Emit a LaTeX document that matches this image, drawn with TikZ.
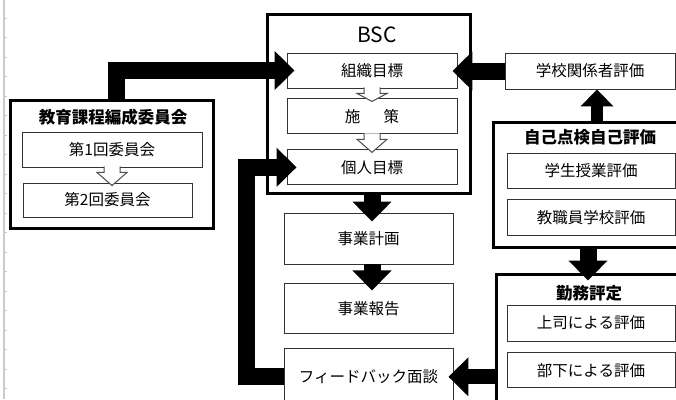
\documentclass[tikz,border=0pt]{standalone}
\usepackage{fontspec}
\setmainfont{Noto Sans CJK JP}
\usepackage{tikz}
\usetikzlibrary{positioning}
\usetikzlibrary{calc,arrows.meta}
\tikzstyle{box} = [draw=black!80, line width=0.9pt, fill=white, minimum width=170pt, minimum height=35pt, inner sep=0pt, text centered, font=\fontsize{15.5}{16}\selectfont]
\tikzstyle{frame} = [draw=black, line width=3pt, inner sep=0pt]
\tikzstyle{title} = [font=\fontsize{16.5}{17}\selectfont\bfseries]
\tikzstyle{fat} = [line width=17pt, -{Triangle[width=38pt,length=20pt]}]
\tikzstyle{hollow} = [draw=black!70, fill=white, line width=1pt]
\newcommand{\hollowdown}[2]{%
	\path[hollow] let \p1=(#1.south), \p2=(#2.north) in
	(\x1-8pt,\y1+1pt) -- (\x1-8pt,\y1-5pt) -- (\x1-15pt,\y1-5pt) -- (\x1,\y2-3pt)
	-- (\x1+15pt,\y1-5pt) -- (\x1+8pt,\y1-5pt) -- (\x1+8pt,\y1+1pt);}

\begin{document}
\begin{tikzpicture}[x=1pt,y=-1pt]
	\useasboundingbox (0,0) rectangle (676,399);
	% sheet edge
	\draw[black!20, line width=1.5pt] (4,0) -- (4,399);
	\foreach \t in {18,37.5,...,399}
	\draw[black!20] (4,\t) -- (7,\t);
	
	\node[frame, minimum width=203pt, minimum height=128pt] (ctee) at (111.5,164) {};
	\node[title] (cteeT) at (113,117) {教育課程編成委員会};
	\node[box, minimum width=180pt] (c1) at (112,149.5) {第1回委員会};
	\node[box, minimum width=169pt, minimum height=34pt] (c2) at (107.5,200) {第2回委員会};
	
	\node[frame, minimum width=203pt, minimum height=179pt] (bsc) at (368.5,103.5) {};
	\node[font=\fontsize{21}{22}\selectfont] (bscT) at (377,35) {BSC};
	\node[box] (goal) at (372,70.5) {組織目標};
	\node[box, below=10pt of goal] (measure) {施\hspace{1.5em}策};
	\node[box, below=15pt of measure] (indiv) {個人目標};
	
	\node[box, minimum height=36pt] (stake) at (590,71) {学校関係者評価};
	\node[frame, minimum width=187pt, minimum height=125pt] (self) at (586.5,184.5) {};
	\node[title] (selfT) at (590,137) {自己点検自己評価};
	\node[box, minimum width=168pt] (student) at (591,170.5) {学生授業評価};
	\node[box, minimum width=168pt, minimum height=36pt, below=11pt of student] (staff) {教職員学校評価};
	
	\node[frame, minimum width=184pt, minimum height=128pt] (kinmu) at (588,338) {};
	\node[title] (kinmuT) at (589,293) {勤務評定};
	\node[box, minimum width=168pt, minimum height=36pt] (boss) at (591,323) {上司による評価};
	\node[box, minimum width=168pt, below=11pt of boss] (sub) {部下による評価};
	
	\node[box, minimum width=169pt, minimum height=51pt] (plan) at (368.5,238.5) {事業計画};
	\node[box, minimum width=169pt, minimum height=50pt, below=19pt of plan] (report) {事業報告};
	\node[box, minimum width=169pt, minimum height=56pt, below=14pt of report] (fb) {フィードバック面談};
	
	\coordinate (upx) at (597,0);
	\draw[fat, shorten >=-8pt] ($(ctee.north)+(4.5,0)$) |- (goal.west);
	\draw[fat, shorten >=-10pt] (fb.west) -- ++(-37,0) |- (indiv.west);
	\draw[fat, shorten >=-5pt] (stake.west) -- (stake.west -| goal.east);
	\draw[fat, line width=12pt, -{Triangle[width=32pt,length=17pt]}] (self.north -| upx) -- (stake.south -| upx);
	\draw[fat, shorten >=-8pt] (self.south -| kinmu.north) -- (kinmu.north);
	\draw[fat, shorten >=-9pt] (bsc.south -| goal.south) -- (plan.north -| goal.south);
	\draw[fat, shorten >=-7pt] (plan.south -| goal.south) -- (report.north -| goal.south);
	\draw[fat, line width=15pt, shorten >=-5pt] (kinmu.west |- fb.east) -- (fb.east);
	
	\hollowdown{c1}{c2}
	\hollowdown{goal}{measure}
	\hollowdown{measure}{indiv}
\end{tikzpicture}
\end{document}
